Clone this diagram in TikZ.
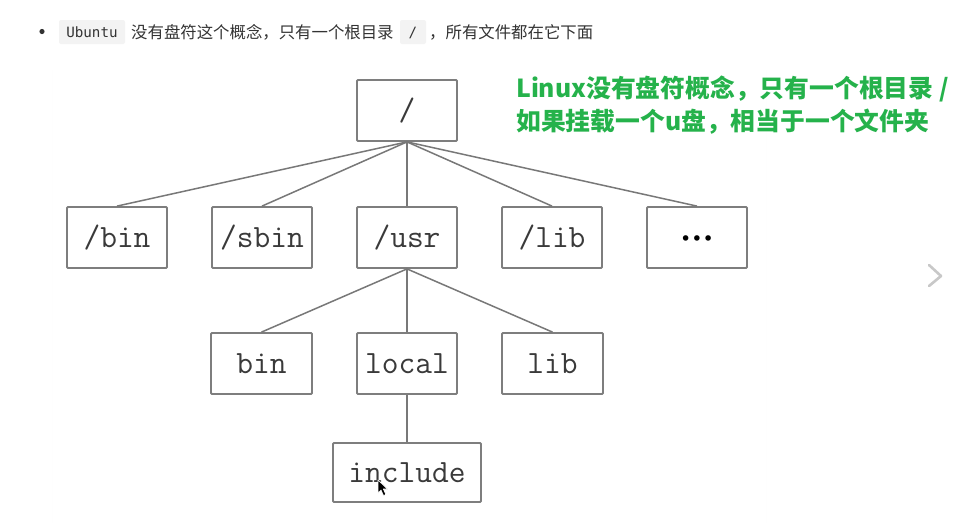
\documentclass[tikz,border=0pt]{standalone}
\usepackage{fontspec}
\newfontfamily\cjk{Noto Sans CJK SC}
\newfontfamily\codefont{DejaVu Sans Mono}
\newfontfamily\dejavu{DejaVu Sans}
\definecolor{boxline}{HTML}{7E7E7E}
\definecolor{conn}{HTML}{787878}
\definecolor{labeltxt}{HTML}{3A3A3A}
\definecolor{bodytxt}{HTML}{333333}
\definecolor{codebg}{HTML}{F3F3F3}
\definecolor{note}{HTML}{25B24B}
\definecolor{panel}{HTML}{FEFEFE}
\definecolor{chev}{HTML}{C8C8C8}
\tikzset{
  dirbox/.style={draw=boxline, line width=1.8pt, rounded corners=1pt, fill=white,
    minimum width=100pt, minimum height=61pt, inner sep=0pt,
    text height=23pt, text depth=3pt, text=labeltxt,
    font=\ttfamily\fontsize{32.5}{36}\selectfont},
  link/.style={draw=conn, line width=1.5pt},
  codebox/.style={fill=codebg, rounded corners=2pt, inner sep=0pt},
  bodytext/.style={inner sep=0pt, anchor=base west, text=bodytxt,
    font=\cjk\fontsize{16.4}{20}\selectfont},
  notetext/.style={inner sep=0pt, anchor=base west, text=note,
    font=\cjk\bfseries\fontsize{24.8}{28}\selectfont}
}
\begin{document}
\begin{tikzpicture}[x=1pt,y=-1pt]
\useasboundingbox (0,0) rectangle (977,523);
\fill[white] (0,0) rectangle (977,523);
\draw[panel, line width=1pt] (52,70) -- (52,523);
\draw[panel, line width=1pt] (766,70) -- (766,523);

% top line
\fill[bodytxt] (42,31.5) circle (2.6);
\fill[codebox] (59,20) rectangle (125,44);
\node[inner sep=0pt, anchor=base, text=bodytxt, font=\codefont\fontsize{14.2}{17}\selectfont] (ubuntu) at (92,37.8) {Ubuntu};
\node[bodytext] (t1) at (131,38) {没有盘符这个概念，只有一个根目录};
\fill[codebox] (400,20) rectangle (426,44);
\node[inner sep=0pt, anchor=base, text=bodytxt, font=\codefont\fontsize{14.2}{17}\selectfont] (slash) at (413,37.8) {/};
\node[bodytext] (t2) at (429,38) {，所有文件都在它下面};

% green note
\node[notetext] (n1) at (516,97) {Linux没有盘符概念，只有一个根目录 /};
\node[notetext] (n2) at (516,130) {如果挂载一个u盘，相当于一个文件夹};

% tree
\node[dirbox] (root) at (407,110.5) {/};
\node[dirbox] (bin1) at (117,237.5) {/bin};
\node[dirbox] (sbin) at (262,237.5) {/sbin};
\node[dirbox] (usr) at (407,237.5) {/usr};
\node[dirbox] (lib1) at (552,237.5) {/lib};
\node[dirbox, font=\dejavu\fontsize{19}{22}\selectfont, text=black, text height=18pt, text depth=2pt] (more) at (697,237.5) {•••};
\node[dirbox, minimum width=101pt] (bin2) at (261.5,363.5) {bin};
\node[dirbox] (local) at (407,363.5) {local};
\node[dirbox, minimum width=101pt] (lib2) at (552.5,363.5) {lib};
\node[dirbox, minimum width=148pt, minimum height=59pt] (include) at (407,472.5) {include};

\foreach \c in {bin1,sbin,usr,lib1,more} \draw[link] (root.south) -- (\c.north);
\foreach \c in {bin2,local,lib2} \draw[link] (usr.south) -- (\c.north);
\draw[link] (local.south) -- (include.north);

% mouse cursor
\filldraw[fill=black, draw=white, line width=0.6pt, line join=round]
  (378,480) -- (378,493) -- (381,490) -- (383.5,495.5) -- (385.8,494.5) -- (383.3,489) -- (387.5,489) -- cycle;

% chevron
\draw[chev, line width=2.6pt, line cap=round, line join=round] (929,265) -- (941,276) -- (929,286);
\end{tikzpicture}
\end{document}
